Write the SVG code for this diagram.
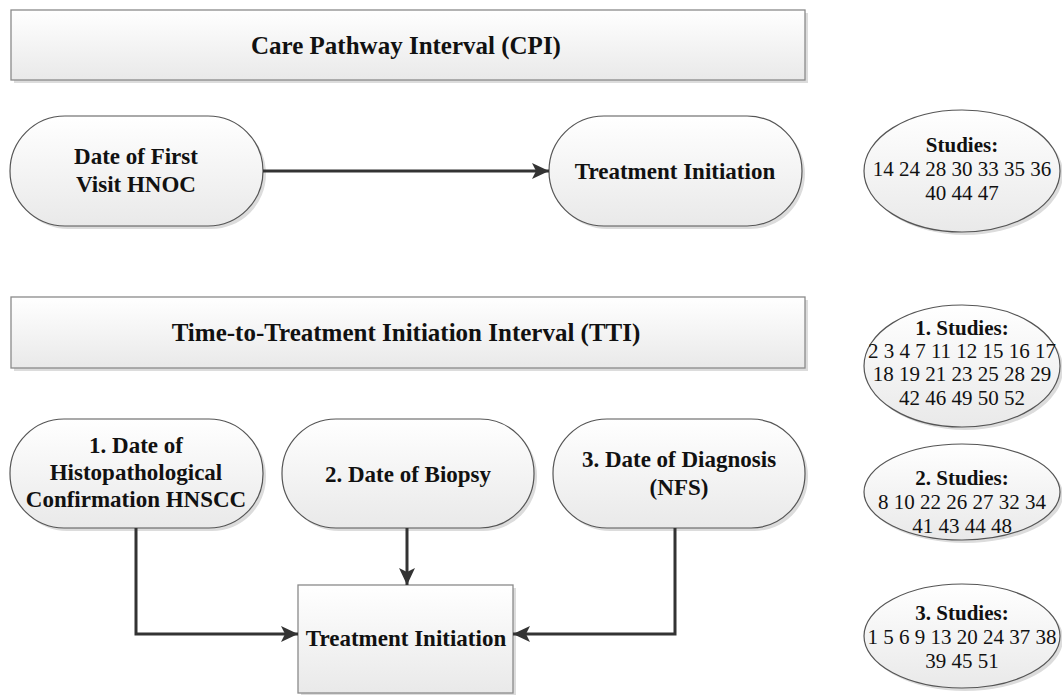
<svg xmlns="http://www.w3.org/2000/svg" width="1062" height="695" viewBox="0 0 1062 695">
<defs>
<linearGradient id="g" x1="0" y1="0" x2="0" y2="1">
<stop offset="0" stop-color="#ffffff"/>
<stop offset="1" stop-color="#e9e9e9"/>
</linearGradient>
<marker id="ah" markerWidth="18" markerHeight="16" refX="17" refY="8" orient="auto" markerUnits="userSpaceOnUse">
<path d="M0,0 L17,8 L0,16 L4,8 z" fill="#333"/>
</marker>
<style>
.box{fill:url(#g);stroke:#8a8a8a;stroke-width:1.3}
.term{fill:url(#g);stroke:#555;stroke-width:1.2}
.shadow{fill:#dcdcdc}
.conn{fill:none;stroke:#333;stroke-width:3}
text{font-family:'Liberation Serif','DejaVu Serif',serif;fill:#111;text-anchor:middle}
.lbl{font-weight:bold;font-size:23px}
.hdr{font-weight:bold;font-size:25px}
.st{font-size:21px}
.stb{font-weight:bold}
</style>
</defs>
<rect width="1062" height="695" fill="#fff"/>

<g id="cpi-header">
<rect class="shadow" x="14" y="13" width="794" height="70"/>
<rect class="box" x="11" y="10" width="794" height="70"/>
<text class="hdr" x="406" y="54" font-family="Liberation Serif">Care Pathway Interval (CPI)</text>
</g>

<g id="first-visit">
<rect class="shadow" x="13" y="119" width="253" height="110" rx="55" ry="55"/>
<rect class="term" x="10" y="116" width="253" height="110" rx="55" ry="55"/>
<text class="lbl" x="136" y="164">Date of First</text>
<text class="lbl" x="136" y="192">Visit HNOC</text>
</g>

<g id="cpi-treatment">
<rect class="shadow" x="552" y="119" width="253" height="110" rx="55" ry="55"/>
<rect class="term" x="549" y="116" width="253" height="110" rx="55" ry="55"/>
<text class="lbl" x="675" y="179">Treatment Initiation</text>
</g>

<g id="cpi-studies">
<ellipse class="shadow" cx="965" cy="174" rx="98" ry="61"/>
<ellipse class="term" cx="962" cy="171" rx="98" ry="61"/>
<text class="st stb" x="962" y="152">Studies:</text>
<text class="st" x="962" y="176">14 24 28 30 33 35 36</text>
<text class="st" x="962" y="200">40 44 47</text>
</g>

<g id="tti-header">
<rect class="shadow" x="14" y="300" width="794" height="71"/>
<rect class="box" x="11" y="297" width="794" height="71"/>
<text class="hdr" x="406" y="341">Time-to-Treatment Initiation Interval (TTI)</text>
</g>

<g id="histo">
<rect class="shadow" x="13" y="422" width="253" height="109" rx="54" ry="54"/>
<rect class="term" x="10" y="419" width="253" height="109" rx="54" ry="54"/>
<text class="lbl" x="136" y="453">1. Date of</text>
<text class="lbl" x="136" y="480">Histopathological</text>
<text class="lbl" x="136" y="507">Confirmation HNSCC</text>
</g>

<g id="biopsy">
<rect class="shadow" x="285" y="422" width="252" height="109" rx="54" ry="54"/>
<rect class="term" x="282" y="419" width="252" height="109" rx="54" ry="54"/>
<text class="lbl" x="408" y="482">2. Date of Biopsy</text>
</g>

<g id="diagnosis">
<rect class="shadow" x="556" y="422" width="252" height="109" rx="54" ry="54"/>
<rect class="term" x="553" y="419" width="252" height="109" rx="54" ry="54"/>
<text class="lbl" x="679" y="467">3. Date of Diagnosis</text>
<text class="lbl" x="679" y="495">(NFS)</text>
</g>

<g id="tti-treatment">
<rect class="shadow" x="301" y="588" width="215" height="108"/>
<rect class="box" x="298" y="585" width="215" height="108"/>
<text class="lbl" x="406" y="646">Treatment Initiation</text>
</g>

<g id="studies-1">
<ellipse class="shadow" cx="965" cy="369" rx="98" ry="61"/>
<ellipse class="term" cx="962" cy="366" rx="98" ry="61"/>
<text class="st stb" x="962" y="335">1. Studies:</text>
<text class="st" x="962" y="358">2 3 4 7 11 12 15 16 17</text>
<text class="st" x="962" y="381">18 19 21 23 25 28 29</text>
<text class="st" x="962" y="405">42 46 49 50 52</text>
</g>

<g id="studies-2">
<ellipse class="shadow" cx="965" cy="495" rx="98" ry="48"/>
<ellipse class="term" cx="962" cy="492" rx="98" ry="48"/>
<text class="st stb" x="962" y="485">2. Studies:</text>
<text class="st" x="962" y="509">8 10 22 26 27 32 34</text>
<text class="st" x="962" y="533">41 43 44 48</text>
</g>

<g id="studies-3">
<ellipse class="shadow" cx="965" cy="639" rx="98" ry="52"/>
<ellipse class="term" cx="962" cy="636" rx="98" ry="52"/>
<text class="st stb" x="962" y="620">3. Studies:</text>
<text class="st" x="962" y="644">1 5 6 9 13 20 24 37 38</text>
<text class="st" x="962" y="668">39 45 51</text>
</g>

<g id="connectors">
<path class="conn" d="M263,171 L549,171" marker-end="url(#ah)"/>
<path class="conn" d="M136,528 L136,634 L298,634" marker-end="url(#ah)"/>
<path class="conn" d="M407,528 L407,585" marker-end="url(#ah)"/>
<path class="conn" d="M675,528 L675,634 L513,634" marker-end="url(#ah)"/>
</g>
</svg>
